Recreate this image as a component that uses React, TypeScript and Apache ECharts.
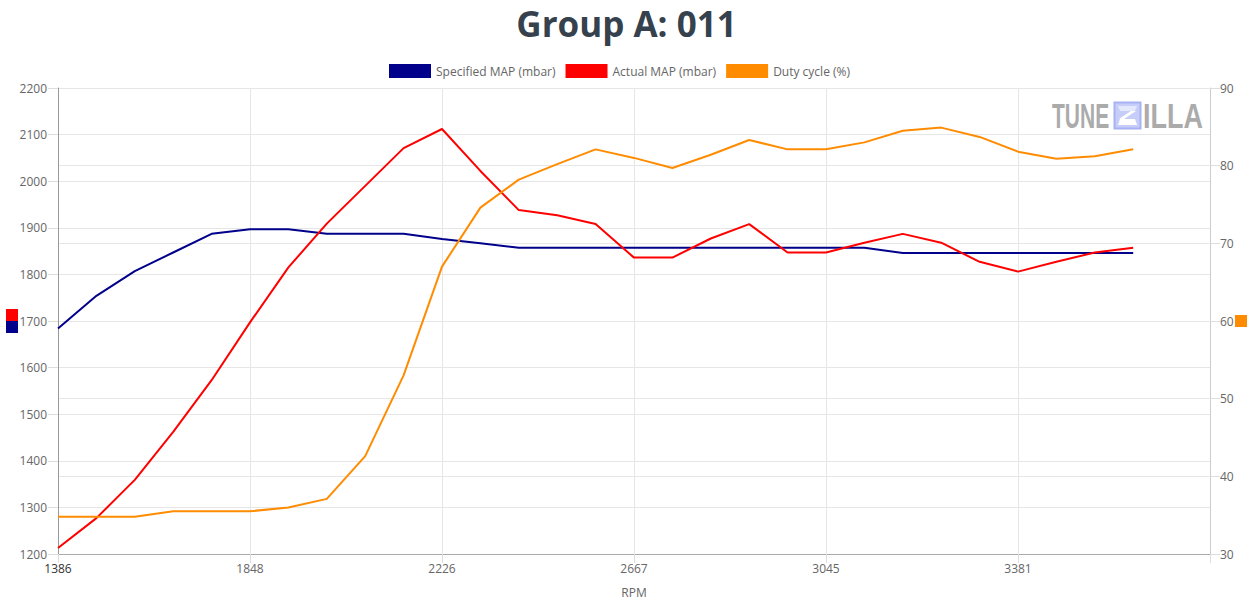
import { useEffect, useRef } from "react";
import * as echarts from "echarts";

const rpmCategories = [
  "1386", "1470", "1563", "1659", "1752", "1848", "1921", "1995", "2076", "2151",
  "2226", "2311", "2398", "2490", "2578", "2667", "2741", "2818", "2893", "2969",
  "3045", "3110", "3178", "3247", "3313", "3381", "3449", "3517", "3585", "3650", "3720",
];

const specifiedMap = [
  1684, 1754, 1807, 1847, 1887, 1897, 1897, 1887, 1887, 1887,
  1876, 1867, 1857, 1857, 1857, 1857, 1857, 1857, 1857, 1857,
  1857, 1857, 1846, 1846, 1846, 1846, 1846, 1846, 1846,
];

const actualMap = [
  1213, 1277, 1359, 1462, 1573, 1697, 1815, 1909, 1990, 2071,
  2112, 2022, 1938, 1927, 1908, 1836, 1836, 1877, 1908, 1847,
  1847, 1868, 1887, 1868, 1827, 1806, 1827, 1847, 1857,
];

const dutyCycle = [
  34.8, 34.8, 34.8, 35.5, 35.5, 35.5, 36.0, 37.1, 42.6, 53.0,
  67.0, 74.6, 78.2, 80.2, 82.1, 81.0, 79.7, 81.4, 83.3, 82.1,
  82.1, 83.0, 84.5, 84.9, 83.7, 81.8, 80.9, 81.2, 82.1,
];

const seriesNames = ["Specified MAP (mbar)", "Actual MAP (mbar)", "Duty cycle (%)"];
const seriesColors = ["#00008b", "#ff0000", "#ff8c00"];

const leftAxisRange = { min: 1200, max: 2200, interval: 100 };
const rightAxisRange = { min: 30, max: 90, interval: 10 };

const FONT = '"Open Sans", "Noto Sans", sans-serif';

export default function App() {
  const ref = useRef<HTMLDivElement>(null);

  useEffect(() => {
    if (!ref.current) return;
    const chart = echarts.init(ref.current, null, { renderer: "svg" });
    const gridColor = "#e6e6e6";
    chart.setOption({
      animation: false,
      textStyle: { fontFamily: FONT },
      title: {
        text: "Group A: 011",
        left: "center",
        top: 1,
        textStyle: {
          fontFamily: FONT,
          fontSize: 35,
          fontWeight: "bold",
          color: "#36414e",
        },
      },
      legend: {
        data: seriesNames,
        top: 64,
        left: 389,
        padding: 0,
        icon: "rect",
        itemWidth: 42,
        itemHeight: 14,
        itemGap: 10,
        textStyle: { color: "#666", fontSize: 12, fontFamily: FONT },
      },
      grid: {
        left: 58,
        right: 43,
        top: 88,
        bottom: 46,
        containLabel: false,
        outerBoundsMode: "none",
      },
      xAxis: {
        type: "category",
        data: rpmCategories,
        boundaryGap: false,
        name: "RPM",
        nameLocation: "middle",
        nameGap: 32,
        nameTextStyle: { color: "#666", fontSize: 12, fontFamily: FONT },
        axisLine: { show: true, lineStyle: { color: "#aaa", width: 1 } },
        axisTick: { show: true, interval: 4, length: 9, lineStyle: { color: "#ddd" } },
        axisLabel: {
          interval: (i: number) => i % 5 === 0 && i < 30,
          margin: 8,
          color: "#666",
          fontSize: 12,
          fontFamily: FONT,
          formatter: (v: string, i: number) => (i === 0 ? "{d|" + v + "}" : v),
          rich: { d: { color: "#333", fontSize: 12, fontFamily: FONT } },
        },
        splitLine: { show: true, interval: 4, lineStyle: { color: gridColor } },
      },
      yAxis: [
        {
          type: "value",
          position: "left",
          ...leftAxisRange,
          axisLine: { show: true, lineStyle: { color: "#999" } },
          axisTick: { show: true, length: 10, lineStyle: { color: "#ddd" } },
          axisLabel: {
            color: "#666",
            fontSize: 12,
            margin: 11,
            fontFamily: FONT,
            formatter: (v: number) => String(v),
          },
          splitLine: { show: true, lineStyle: { color: gridColor } },
        },
        {
          type: "value",
          position: "right",
          ...rightAxisRange,
          axisLine: { show: true, lineStyle: { color: "#ccc" } },
          axisTick: { show: true, length: 10, lineStyle: { color: "#ddd" } },
          axisLabel: {
            color: "#666",
            fontSize: 12,
            margin: 10,
            fontFamily: FONT,
            formatter: (v: number) => String(v),
          },
          splitLine: { show: true, lineStyle: { color: gridColor } },
        },
      ],
      series: [
        {
          name: seriesNames[0],
          type: "line",
          yAxisIndex: 0,
          data: specifiedMap,
          symbol: "none",
          showSymbol: false,
          color: seriesColors[0],
          lineStyle: { width: 2, color: seriesColors[0] },
        },
        {
          name: seriesNames[1],
          type: "line",
          yAxisIndex: 0,
          data: actualMap,
          symbol: "none",
          showSymbol: false,
          color: seriesColors[1],
          lineStyle: { width: 2, color: seriesColors[1] },
        },
        {
          name: seriesNames[2],
          type: "line",
          yAxisIndex: 1,
          data: dutyCycle,
          symbol: "none",
          showSymbol: false,
          color: seriesColors[2],
          lineStyle: { width: 2, color: seriesColors[2] },
        },
      ],
      graphic: [
        { type: "rect", shape: { x: 6, y: 309, width: 12, height: 12 }, style: { fill: seriesColors[1] } },
        { type: "rect", shape: { x: 6, y: 321, width: 12, height: 12 }, style: { fill: seriesColors[0] } },
        { type: "rect", shape: { x: 1235, y: 315, width: 12, height: 12 }, style: { fill: seriesColors[2] } },
        {
          type: "text",
          x: 1052,
          y: 116,
          scaleX: 0.6,
          style: {
            text: "TUNE",
            font: 'bold 35px "Liberation Sans", Arial, sans-serif',
            fill: "#ababab",
            textAlign: "left",
            textVerticalAlign: "middle",
          },
        },
        {
          type: "rect",
          shape: { x: 1114.5, y: 102.5, width: 26, height: 26 },
          style: { fill: "#c6cdf8", stroke: "#a7b2f3", lineWidth: 2 },
        },
        {
          type: "polygon",
          shape: { points: [[1118, 106], [1137, 106], [1135, 111], [1120, 111]] },
          style: { fill: "#e4e8fd" },
        },
        {
          type: "polygon",
          shape: { points: [[1131, 111], [1136, 111], [1124, 119], [1119, 119]] },
          style: { fill: "#ffffff" },
        },
        {
          type: "polygon",
          shape: { points: [[1120, 119], [1135, 119], [1137, 125], [1118, 125]] },
          style: { fill: "#ffffff" },
        },
        {
          type: "text",
          x: 1143,
          y: 116,
          scaleX: 0.77,
          style: {
            text: "ILLA",
            font: 'bold 35px "Liberation Sans", Arial, sans-serif',
            fill: "#ababab",
            textAlign: "left",
            textVerticalAlign: "middle",
          },
        },
      ],
    });
    return () => chart.dispose();
  }, []);

  return (
    <div
      ref={ref}
      style={{ position: "absolute", left: 0, top: 0, width: 1253, height: 600 }}
    />
  );
}
